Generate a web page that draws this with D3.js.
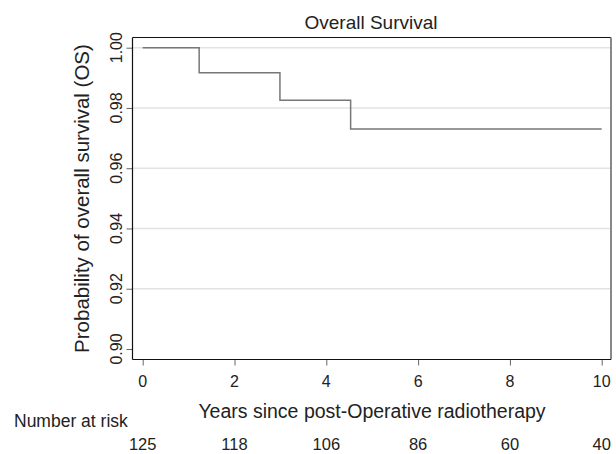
<!DOCTYPE html>
<html>
<head>
<meta charset="utf-8">
<script src="https://cdn.jsdelivr.net/npm/d3@7"></script>
<style>
  body { margin: 0; background: #fff; }
  text { font-family: "Liberation Sans", Arial, sans-serif; fill: #222; }
</style>
</head>
<body>
<div id="chart1"></div>
<script>
// Kaplan-Meier steps
var stepTimes = [0, 1.23, 2.99, 4.53];
var stepSurv = [1.0, 0.9917, 0.9826, 0.9730];
var endTime = 10;

var xTicks = [0, 2, 4, 6, 8, 10];
var yTicks = [0.90, 0.92, 0.94, 0.96, 0.98, 1.00];
var gridTicks = [0.92, 0.94, 0.96, 0.98, 1.00];
var riskCounts = [125, 118, 106, 86, 60, 40];

(function(d3) {
    var w = 616, h = 454;
    var box = {left: 132.5, top: 37.5, right: 611, bottom: 359.5};

    var svg = d3.select('#chart1')
        .append('svg')
        .attr('width', w)
        .attr('height', h);

    var x = d3.scaleLinear().domain([0, 10]).range([142.7, 601.7]);
    var y = d3.scaleLinear().domain([0.90, 1.00]).range([349, 47.7]);

    // grid
    svg.selectAll('line.grid')
        .data(gridTicks)
        .enter()
        .append('line')
        .attr('class', 'grid')
        .attr('x1', box.left)
        .attr('x2', box.right)
        .attr('y1', function(d){ return y(d); })
        .attr('y2', function(d){ return y(d); })
        .attr('stroke', '#e3e3e3')
        .attr('stroke-width', 1.5);

    // frame
    svg.append('line')
        .attr('x1', box.left).attr('x2', box.right)
        .attr('y1', box.top).attr('y2', box.top)
        .attr('stroke', '#111').attr('stroke-width', 1.2);
    svg.append('line')
        .attr('x1', box.right).attr('x2', box.right)
        .attr('y1', box.top).attr('y2', box.bottom)
        .attr('stroke', '#888').attr('stroke-width', 2);

    // axes
    var yAxis = d3.axisLeft(y)
        .tickValues(yTicks)
        .tickSize(6)
        .tickFormat('');
    var gy = svg.append('g')
        .attr('transform', 'translate(' + box.left + ',0)')
        .call(yAxis);
    gy.select('.domain').remove();
    gy.selectAll('.tick line').attr('stroke', '#666');
    svg.append('line')
        .attr('x1', box.left).attr('x2', box.left)
        .attr('y1', box.top).attr('y2', box.bottom)
        .attr('stroke', '#111').attr('stroke-width', 1.2);

    var xAxis = d3.axisBottom(x)
        .tickValues(xTicks)
        .tickSize(6)
        .tickFormat('');
    var gx = svg.append('g')
        .attr('transform', 'translate(0,' + box.bottom + ')')
        .call(xAxis);
    gx.select('.domain').remove();
    gx.selectAll('.tick line').attr('stroke', '#666');
    svg.append('line')
        .attr('x1', box.left).attr('x2', box.right)
        .attr('y1', box.bottom).attr('y2', box.bottom)
        .attr('stroke', '#111').attr('stroke-width', 1.2);

    // tick labels
    svg.selectAll('text.ylab')
        .data(yTicks)
        .enter()
        .append('text')
        .attr('class', 'ylab')
        .attr('transform', function(d){ return 'translate(122,' + y(d) + ') rotate(-90)'; })
        .attr('text-anchor', 'middle')
        .attr('font-size', 16)
        .text(function(d){ return d3.format('.2f')(d); });

    svg.selectAll('text.xlab')
        .data(xTicks)
        .enter()
        .append('text')
        .attr('class', 'xlab')
        .attr('x', function(d){ return x(d); })
        .attr('y', 387)
        .attr('text-anchor', 'middle')
        .attr('font-size', 16)
        .text(function(d){ return d; });

    // survival curve
    var pts = [];
    for (var i = 0; i < stepTimes.length; i++) pts.push([stepTimes[i], stepSurv[i]]);
    pts.push([endTime, stepSurv[stepSurv.length - 1]]);
    var line = d3.line()
        .x(function(d){ return x(d[0]); })
        .y(function(d){ return y(d[1]); })
        .curve(d3.curveStepAfter);
    svg.append('path')
        .datum(pts)
        .attr('d', line)
        .attr('fill', 'none')
        .attr('stroke', '#777')
        .attr('stroke-width', 1.5);

    // titles
    svg.append('text')
        .attr('x', 371).attr('y', 29)
        .attr('text-anchor', 'middle')
        .attr('font-size', 19)
        .text('Overall Survival');

    svg.append('text')
        .attr('transform', 'translate(89,' + ((box.top + box.bottom) / 2) + ') rotate(-90)')
        .attr('text-anchor', 'middle')
        .attr('font-size', 20.5)
        .text('Probability of overall survival (OS)');

    svg.append('text')
        .attr('x', 372).attr('y', 418)
        .attr('text-anchor', 'middle')
        .attr('font-size', 19.5)
        .text('Years since post-Operative radiotherapy');

    // number at risk
    svg.append('text')
        .attr('x', 14).attr('y', 427)
        .attr('font-size', 17.5)
        .text('Number at risk');

    svg.selectAll('text.risk')
        .data(riskCounts)
        .enter()
        .append('text')
        .attr('class', 'risk')
        .attr('x', function(d, i){ return x(xTicks[i]); })
        .attr('y', 450)
        .attr('text-anchor', 'middle')
        .attr('font-size', 16.5)
        .text(function(d){ return d; });
}(window.d3));
</script>
</body>
</html>
